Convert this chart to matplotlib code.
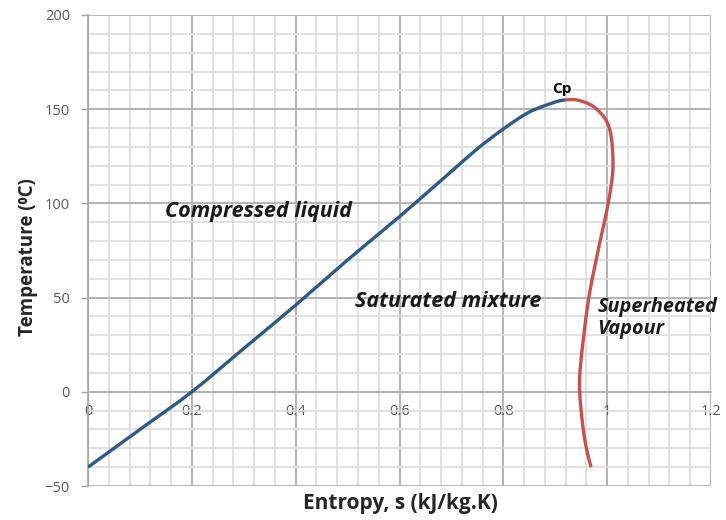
import matplotlib
matplotlib.use("Agg")
import matplotlib.pyplot as plt
from matplotlib.ticker import MultipleLocator
from matplotlib.path import Path
from matplotlib.patches import PathPatch

plt.rcParams['font.family'] = ['Open Sans', 'DejaVu Sans']

# Saturated liquid line (entropy vs temperature)
liquid_s = [0.0, 0.1, 0.2, 0.3, 0.4, 0.5, 0.6, 0.7, 0.75, 0.8, 0.85, 0.9, 0.92]
liquid_T = [-40, -20, 0, 23, 46, 70, 93, 117, 129, 139.5, 148.5, 153.8, 155]

# Saturated vapour line
vapour_s = [0.92, 0.94, 0.963, 0.98, 0.998, 1.008, 1.011, 1.002, 0.988, 0.975,
            0.964, 0.955, 0.948, 0.947, 0.953, 0.96, 0.969]
vapour_T = [155, 155, 153, 150, 144, 135, 118, 100, 82, 65,
            49, 30, 12, 0, -18, -30, -40]

x_ticks = [0, 0.2, 0.4, 0.6, 0.8, 1.0, 1.2]
x_tick_labels = ['0', '0.2', '0.4', '0.6', '0.8', '1', '1.2']
y_ticks = [-50, 0, 50, 100, 150, 200]


def smooth_path(xs, ys):
    """Catmull-Rom style Bezier path through the given points."""
    pts = list(zip(xs, ys))
    n = len(pts)
    verts = [pts[0]]
    codes = [Path.MOVETO]
    for i in range(n - 1):
        p0 = pts[i - 1] if i > 0 else pts[i]
        p1 = pts[i]
        p2 = pts[i + 1]
        p3 = pts[i + 2] if i + 2 < n else pts[i + 1]
        c1 = (p1[0] + (p2[0] - p0[0]) / 6, p1[1] + (p2[1] - p0[1]) / 6)
        c2 = (p2[0] - (p3[0] - p1[0]) / 6, p2[1] - (p3[1] - p1[1]) / 6)
        verts += [c1, c2, p2]
        codes += [Path.CURVE4] * 3
    return Path(verts, codes)


fig = plt.figure(figsize=(7.26, 5.2), dpi=100)
ax = fig.add_axes([88 / 726, 1 - 486 / 520, (711 - 88) / 726, (486 - 15) / 520])

ax.set_xlim(0, 1.2)
ax.set_ylim(-50, 200)

ax.xaxis.set_major_locator(MultipleLocator(0.2))
ax.xaxis.set_minor_locator(MultipleLocator(0.04))
ax.yaxis.set_major_locator(MultipleLocator(50))
ax.yaxis.set_minor_locator(MultipleLocator(10))

ax.grid(which='major', color='#b3b3b3', linewidth=1.4)
ax.grid(which='minor', color='#dcdcdc', linewidth=1.2)
ax.set_axisbelow(True)

ax.set_xticks(x_ticks)
ax.set_xticklabels(x_tick_labels)
ax.set_yticks(y_ticks)

for side in ('top', 'right'):
    ax.spines[side].set_visible(False)
ax.spines['bottom'].set_position(('data', 0))
ax.spines['bottom'].set_color('#b3b3b3')
ax.spines['bottom'].set_linewidth(1.4)
ax.spines['left'].set_color('#a6a6a6')
ax.spines['left'].set_linewidth(1.2)

ax.tick_params(axis='x', which='both', length=0, pad=9, labelsize=10.5, labelcolor='#595959')
ax.tick_params(axis='y', which='major', length=5, width=1.0, color='#a6a6a6', pad=8,
               labelsize=10.5, labelcolor='#595959')
ax.tick_params(axis='y', which='minor', length=0)

ax.add_patch(PathPatch(smooth_path(liquid_s, liquid_T), facecolor='none',
                       edgecolor='#2c5a8f', linewidth=2.4, capstyle='butt', zorder=3))
ax.add_patch(PathPatch(smooth_path(vapour_s, vapour_T), facecolor='none',
                       edgecolor='#c8504f', linewidth=2.4, capstyle='butt', zorder=3))

ax.text(0.913, 160.5, 'Cp', fontsize=11, fontweight='bold', ha='center', va='center')
ax.text(0.148, 95.5, 'Compressed liquid', fontsize=15.5, fontweight='bold', style='italic',
        ha='left', va='center', color='#1a1a1a')
ax.text(0.514, 48, 'Saturated mixture', fontsize=15.5, fontweight='bold', style='italic',
        ha='left', va='center', color='#1a1a1a')
ax.text(0.981, 39, 'Superheated\nVapour', fontsize=14.3, fontweight='bold', style='italic',
        ha='left', va='center', color='#1a1a1a', linespacing=1.15)

fig.text(400 / 726, 1 - 504 / 520, 'Entropy, s (kJ/kg.K)', fontsize=15, fontweight='bold',
         ha='center', va='center', color='#262626')
fig.text(28 / 726, 1 - 257 / 520, 'Temperature (⁰C)', fontsize=13.5, fontweight='bold',
         ha='center', va='center', rotation=90, color='#262626')

fig.savefig('out.png', dpi=100)
